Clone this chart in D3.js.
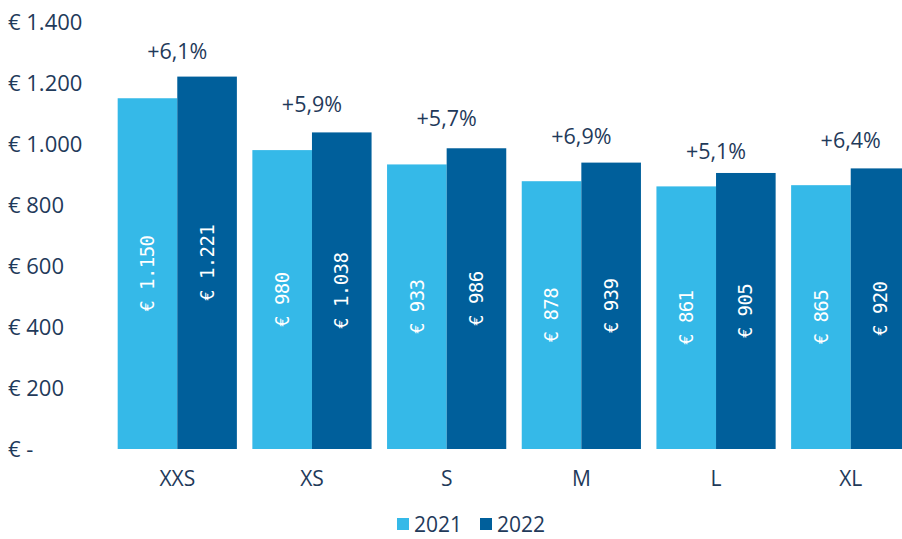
<!DOCTYPE html>
<html>
<head>
<meta charset="utf-8">
<script src="https://cdn.jsdelivr.net/npm/d3@7"></script>
<style>
  html, body { margin: 0; padding: 0; background: #fff; overflow: hidden; }
  svg { display: block; font-family: "Open Sans", sans-serif; }
</style>
</head>
<body>
<div id="chart"></div>
<script>
const categories = ['XXS', 'XS', 'S', 'M', 'L', 'XL'];
const values2021 = [1150, 980, 933, 878, 861, 865];
const values2022 = [1221, 1038, 986, 939, 905, 920];
const growth = ['+6,1%', '+5,9%', '+5,7%', '+6,9%', '+5,1%', '+6,4%'];
// where the growth labels sit, in euro units
const growthPos = [1302, 1131, 1085, 1026, 974, 1010];
const yTicks = [0, 200, 400, 600, 800, 1000, 1200, 1400];
const seriesNames = ['2021', '2022'];

const colors = ['#35b9e8', '#005f9b'];
const textColor = '#1f3a5a';

const width = 902, height = 539;

const svg = d3.select('#chart')
  .append('svg')
  .attr('width', width)
  .attr('height', height);

//Scales
const y = d3.scaleLinear()
  .domain([0, 1400])
  .range([449, 22]);

const x = d3.scaleBand()
  .domain(categories)
  .range([110, 918])
  .paddingInner(0.115)
  .paddingOuter(0.057);

const x1 = d3.scaleBand()
  .domain(seriesNames)
  .range([0, x.bandwidth()]);

const euro = d => '€ ' + d3.format(',')(d).replace(/,/g, '.');

//y axis, labels left aligned
const yAxis = d3.axisLeft(y)
  .tickValues(yTicks)
  .tickSize(0)
  .tickFormat(d => d === 0 ? '€ -' : euro(d));

const yAxisGroup = svg.append('g').call(yAxis);
yAxisGroup.select('.domain').remove();
yAxisGroup.selectAll('text')
  .attr('x', 8)
  .attr('text-anchor', 'start')
  .attr('fill', textColor)
  .style('font-size', '22px')
  .style('font-family', '"Open Sans", sans-serif');

//x axis
const xAxis = d3.axisBottom(x).tickSize(0).tickPadding(0);
const xAxisGroup = svg.append('g')
  .attr('transform', 'translate(0, 449)')
  .call(xAxis);
xAxisGroup.select('.domain').remove();
xAxisGroup.selectAll('text')
  .attr('y', 30)
  .attr('dy', '0.35em')
  .attr('fill', textColor)
  .style('font-size', '21px')
  .style('font-family', '"Open Sans", sans-serif');

const data = categories.map((c, i) => ({
  cat: c,
  vals: [values2021[i], values2022[i]],
  growth: growth[i],
  gpos: growthPos[i]
}));

const groups = svg.selectAll('g.cat')
  .data(data)
  .enter()
  .append('g')
  .attr('class', 'cat')
  .attr('transform', d => `translate(${x(d.cat)}, 0)`);

const bars = groups.selectAll('g.bar')
  .data(d => d.vals.map((v, j) => ({ v, j })))
  .enter()
  .append('g')
  .attr('class', 'bar');

bars.append('rect')
  .attr('x', d => x1(seriesNames[d.j]))
  .attr('width', x1.bandwidth())
  .attr('y', d => y(d.v))
  .attr('height', d => y(0) - y(d.v))
  .attr('fill', d => colors[d.j]);

//value labels inside bars
bars.append('text')
  .attr('transform', d => {
    const cx = x1(seriesNames[d.j]) + x1.bandwidth() / 2;
    const cy = (y(d.v) + y(0)) / 2;
    return `translate(${cx}, ${cy}) rotate(-90)`;
  })
  .attr('text-anchor', 'middle')
  .attr('dy', '0.35em')
  .attr('fill', '#fff')
  .style('font-family', '"DejaVu Sans Mono", monospace')
  .style('font-size', '19px')
  .style('letter-spacing', '-0.6px')
  .text(d => euro(d.v));

//growth labels
groups.append('text')
  .attr('x', x.bandwidth() / 2)
  .attr('y', d => y(d.gpos))
  .attr('dy', '0.35em')
  .attr('text-anchor', 'middle')
  .attr('fill', textColor)
  .style('font-size', '21.5px')
  .text(d => d.growth);

//legend
const legend = svg.append('g');
const legendX = [397, 480];
seriesNames.forEach((name, j) => {
  legend.append('rect')
    .attr('x', legendX[j])
    .attr('y', 518)
    .attr('width', 12)
    .attr('height', 12)
    .attr('fill', colors[j]);
  legend.append('text')
    .attr('x', legendX[j] + 17)
    .attr('y', 532)
    .attr('fill', textColor)
    .style('font-size', '21px')
    .text(name);
});
</script>
</body>
</html>
